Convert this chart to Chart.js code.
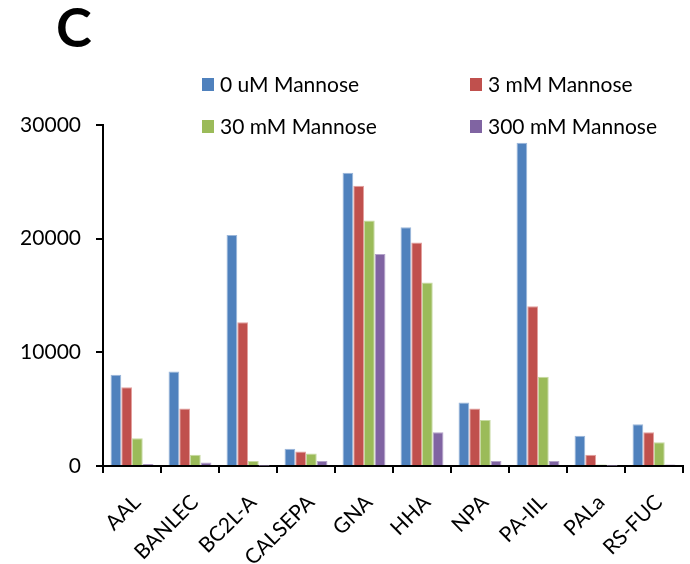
<!DOCTYPE html>
<html>
<head>
<meta charset="utf-8">
<script src="https://cdn.jsdelivr.net/npm/chart.js@4"></script>
<style>
  html, body { margin: 0; padding: 0; background: #fff; }
  #wrap { width: 690px; height: 564px; position: relative; }
</style>
</head>
<body>
<div id="wrap"><canvas id="myChart" width="690" height="564"></canvas></div>
<script>
// Lectins on the x axis
const categories = ['AAL', 'BANLEC', 'BC2L-A', 'CALSEPA', 'GNA', 'HHA', 'NPA', 'PA-IIL', 'PALa', 'RS-FUC'];
const seriesNames = ['0 uM Mannose', '3 mM Mannose', '30 mM Mannose', '300 mM Mannose'];
const seriesColors = ['#4F81BD', '#C0504D', '#9BBB59', '#8064A2'];
const seriesEdges = ['#9BB7DA', '#E3A09E', '#C7DAA2', '#B3A2C9'];

// Values
const mannose0   = [8030, 8320, 20330, 1520, 25800, 21010, 5590, 28440, 2670, 3670];
const mannose3   = [6930, 5060, 12640, 1280, 24650, 19670, 5060, 14050,  990, 2960];
const mannose30  = [2450,  990,   430, 1110, 21600, 16140, 4050,  7860,  130, 2100];
const mannose300 = [ 180,  310,    30,  430, 18660,  2960,  430,   430,   30,  130];
const yTicks = [0, 10000, 20000, 30000];

const FONT = 'Lato, "Open Sans", sans-serif';

document.addEventListener('DOMContentLoaded', function() {
    const ctx = document.getElementById('myChart').getContext('2d');
    const allSeries = [mannose0, mannose3, mannose30, mannose300];

    // Legend in two columns + panel letter, drawn on the canvas
    const extras = {
        id: 'extras',
        afterDraw(chart) {
            const c = chart.ctx;
            c.save();
            c.fillStyle = '#000';
            c.font = 'bold 54px ' + FONT;
            c.textAlign = 'left';
            c.textBaseline = 'alphabetic';
            c.fillText('C', 56, 47);

            c.font = '21px ' + FONT;
            c.textBaseline = 'middle';
            const colX = [202, 470];
            const rowY = [84, 126];
            seriesNames.forEach((name, i) => {
                const x = colX[i % 2];
                const y = rowY[Math.floor(i / 2)];
                c.fillStyle = seriesColors[i];
                c.fillRect(x, y - 6, 12, 13);
                c.fillStyle = '#000';
                c.fillText(name, x + 18, y + 1);
            });
            c.restore();
        }
    };

    new Chart(ctx, {
        type: 'bar',
        data: {
            labels: categories,
            datasets: allSeries.map((values, i) => ({
                label: seriesNames[i],
                data: values,
                backgroundColor: seriesColors[i],
                borderColor: seriesEdges[i],
                borderWidth: 1,
                categoryPercentage: 0.74,
                barPercentage: 1.0
            }))
        },
        options: {
            responsive: false,
            animation: false,
            layout: { padding: { top: 125, right: 7, left: 0, bottom: 0 } },
            plugins: {
                legend: { display: false },
                tooltip: { enabled: false }
            },
            scales: {
                x: {
                    grid: {
                        offset: true,
                        drawOnChartArea: false,
                        tickLength: 7,
                        color: '#000',
                        lineWidth: 2
                    },
                    border: { color: '#000', width: 2 },
                    ticks: {
                        color: '#000',
                        font: { family: FONT, size: 21 },
                        minRotation: 45,
                        maxRotation: 45,
                        padding: 17,
                        labelOffset: 5
                    },
                    afterFit: function(scale) { scale.height = 98; }
                },
                y: {
                    min: 0,
                    max: 30000,
                    afterBuildTicks: function(scale) {
                        scale.ticks = yTicks.map(v => ({ value: v }));
                    },
                    grid: {
                        drawOnChartArea: false,
                        tickLength: 7,
                        color: '#000',
                        lineWidth: 2
                    },
                    border: { color: '#000', width: 2 },
                    ticks: {
                        color: '#000',
                        font: { family: FONT, size: 21 },
                        padding: 15,
                        callback: function(value) { return String(value); }
                    },
                    afterFit: function(scale) { scale.width = 103; }
                }
            }
        },
        plugins: [extras]
    });
});
</script>
</body>
</html>
